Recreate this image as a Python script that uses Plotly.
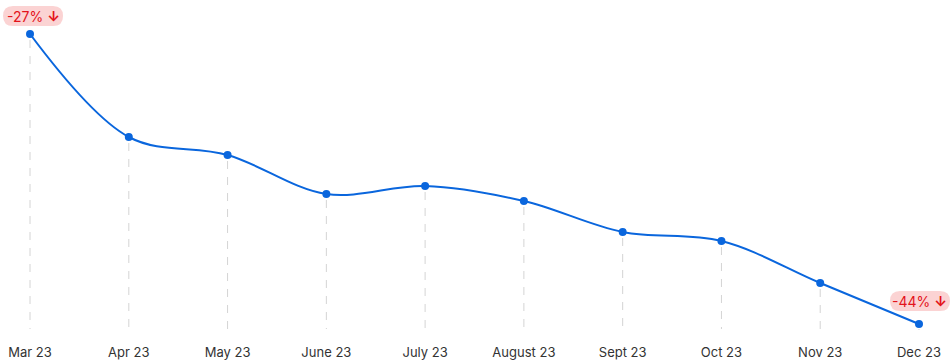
import plotly.graph_objects as go

months = ["Mar 23", "Apr 23", "May 23", "June 23", "July 23", "August 23", "Sept 23", "Oct 23", "Nov 23", "Dec 23"]
values = [323, 220, 202, 163, 171, 156, 125, 116, 74, 33]
badge_labels = ["-27%", "-44%"]
badge_idx = [0, 9]

LINE = "#0a66dd"
RED = "#e3131b"
PINK = "#fbd3d3"
base = 28

xs = list(range(len(months)))

fig = go.Figure()

# dashed guide lines from each point down
gx, gy = [], []
for i, v in zip(xs, values):
    gx += [i, i, None]
    gy += [v - 6, base, None]
fig.add_trace(go.Scatter(x=gx, y=gy, mode="lines",
                         line=dict(color="#d4d4d4", width=1, dash="8px,8px"),
                         hoverinfo="skip", showlegend=False, cliponaxis=False))

fig.add_trace(go.Scatter(x=xs, y=values, mode="lines+markers",
                         line=dict(color=LINE, width=2, shape="spline", smoothing=1.0),
                         marker=dict(color=LINE, size=8),
                         showlegend=False, cliponaxis=False))

offsets = [(3, 18), (1, 23)]
w, h, r = 60, 20, 10
for (dx, dy), idx, lab in zip(offsets, badge_idx, badge_labels):
    x0, x1 = dx - w / 2, dx + w / 2
    y0, y1 = dy - h / 2, dy + h / 2
    path = (f"M {x0 + r},{y0} L {x1 - r},{y0} Q {x1},{y0} {x1},{y0 + r} "
            f"Q {x1},{y1} {x1 - r},{y1} L {x0 + r},{y1} Q {x0},{y1} {x0},{y1 - r} "
            f"Q {x0},{y0} {x0 + r},{y0} Z")
    fig.add_shape(type="path", xref="x", yref="y", xsizemode="pixel", ysizemode="pixel",
                  xanchor=idx, yanchor=values[idx], path=path,
                  fillcolor=PINK, line=dict(width=0), layer="above")
    fig.add_annotation(x=idx, y=values[idx], xref="x", yref="y", text=f"{lab} <b>↓</b>",
                       showarrow=False, xshift=dx, yshift=dy,
                       font=dict(color=RED, size=14, family="Inter"))

fig.update_layout(
    width=950, height=363,
    margin=dict(l=0, r=0, t=0, b=30, autoexpand=False),
    paper_bgcolor="white", plot_bgcolor="white",
    font=dict(family="Inter", size=13, color="#333333"),
    xaxis=dict(range=[-0.304, 9.314], tickmode="array", tickvals=xs, ticktext=months,
               showgrid=False, zeroline=False, showline=False, ticks="", automargin=False,
               ticklabelstandoff=10,
               tickfont=dict(size=13, color="#333333")),
    yaxis=dict(range=[24, 357], visible=False, showgrid=False, zeroline=False, automargin=False),
)

fig.write_html("out.html", config={"displayModeBar": False},
               post_script="document.body.style.margin='0';document.body.style.overflow='hidden';")
